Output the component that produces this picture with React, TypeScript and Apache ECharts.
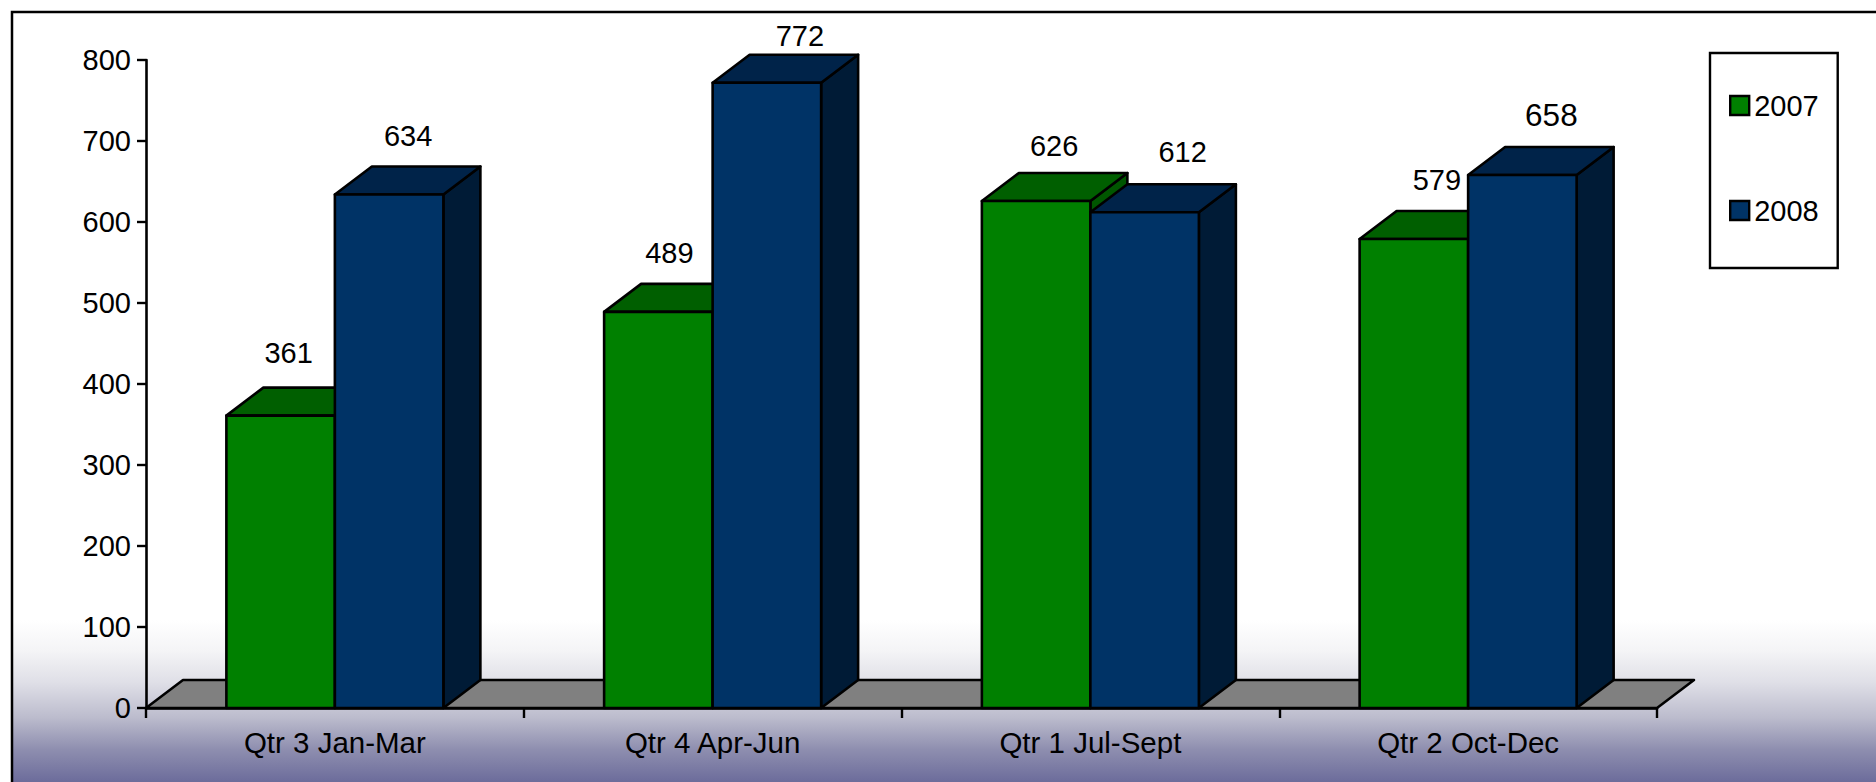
import React, { useEffect, useRef } from "react";
import * as echarts from "echarts";

const categories = ["Qtr 3 Jan-Mar", "Qtr 4 Apr-Jun", "Qtr 1 Jul-Sept", "Qtr 2 Oct-Dec"];
const values2007 = [361, 489, 626, 579];
const values2008 = [634, 772, 612, 658];
const yTicks = { min: 0, max: 800, interval: 100 };

const FONT = '"Liberation Sans", Arial, sans-serif';
const FONT_SIZE = 29;
const LINE = 2.6;
const DEPTH_X = 37;
const DEPTH_Y = 28;
const BAR_W = 108.5;
// Nudges of each value label, measured from the bar's front centre and back top edge.
const labelNudge2007 = [[8, -35], [11, -31], [18, -27], [23, -31]];
const labelNudge2008 = [[19, -30], [33, -19], [38, -32], [29, -32]];
const labelSize2007 = [29, 29, 29, 29];
const labelSize2008 = [29, 29, 29, 31.5];

const barSeries = (
  name: string,
  values: number[],
  side: -1 | 1,
  front: string,
  top: string,
  right: string,
  nudges: number[][],
  sizes: number[]
) => ({
  type: "custom",
  name,
  coordinateSystem: "cartesian2d",
  itemStyle: { color: front },
  data: values.map((v, i) => [i, v]),
  clip: false,
  encode: { x: 0, y: 1 },
  z: 3,
  renderItem: (_p: any, api: any) => {
    const idx = api.value(0);
    const val = api.value(1);
    const [cx, yTop] = api.coord([idx, val]);
    const [, yBase] = api.coord([idx, 0]);
    const x0 = side < 0 ? cx - BAR_W : cx;
    const x1 = x0 + BAR_W;
    const stroke = { stroke: "#000", lineWidth: LINE, lineJoin: "round" };
    const poly = (points: number[][], fill: string) => ({
      type: "polygon",
      shape: { points },
      style: { fill, ...stroke },
    });
    const n = nudges[idx];
    return {
      type: "group",
      children: [
        poly(
          [[x1, yBase], [x1 + DEPTH_X, yBase - DEPTH_Y], [x1 + DEPTH_X, yTop - DEPTH_Y], [x1, yTop]],
          right
        ),
        poly(
          [[x0, yTop], [x0 + DEPTH_X, yTop - DEPTH_Y], [x1 + DEPTH_X, yTop - DEPTH_Y], [x1, yTop]],
          top
        ),
        poly([[x0, yBase], [x0, yTop], [x1, yTop], [x1, yBase]], front),
        {
          type: "text",
          style: {
            text: String(val),
            x: (x0 + x1) / 2 + n[0],
            y: yTop - DEPTH_Y + n[1],
            fill: "#000",
            font: `${sizes[idx]}px ${FONT}`,
            align: "center",
            verticalAlign: "middle",
          },
        },
      ],
    };
  },
});

export default function App() {
  const ref = useRef<HTMLDivElement>(null);
  useEffect(() => {
    document.body.style.margin = "0";
    document.body.style.overflow = "hidden";
    const chart = echarts.init(ref.current!, null, { renderer: "svg" });
    chart.setOption({
      animation: false,
      backgroundColor: "#fff",
      textStyle: { fontFamily: FONT },
      grid: { left: 146, top: 60, width: 1511, height: 648, containLabel: false },
      graphic: [
        {
          type: "rect",
          z: -10,
          shape: { x: 11, y: 12, width: 1865, height: 770 },
          style: {
            fill: new echarts.graphic.LinearGradient(0, 0, 0, 1, [
              { offset: 0, color: "#ffffff" },
              { offset: 0.79, color: "#ffffff" },
              { offset: 0.83, color: "#f4f4f6" },
              { offset: 0.871, color: "#dfdfe7" },
              { offset: 0.916, color: "#bcbccd" },
              { offset: 0.958, color: "#8e8eaf" },
              { offset: 1, color: "#6c6c9b" },
            ]),
          },
        },
        {
          type: "polyline",
          z: -9,
          shape: { points: [[12, 782], [12, 12], [1876, 12]] },
          style: { stroke: "#000", lineWidth: 2.5, fill: "none" },
        },
      ],
      legend: {
        orient: "vertical",
        left: 1710,
        top: 53,
        padding: [38, 19, 43, 19],
        itemGap: 76,
        itemWidth: 19,
        itemHeight: 19,
        backgroundColor: "#fff",
        borderColor: "#000",
        borderWidth: 2.4,
        icon: "rect",
        itemStyle: { borderColor: "#000", borderWidth: 2.4 },
        textStyle: { color: "#000", fontSize: FONT_SIZE, fontFamily: FONT },
        data: ["2007", "2008"],
      },
      xAxis: {
        type: "category",
        data: categories,
        boundaryGap: true,
        axisLine: { show: true, lineStyle: { color: "#000", width: LINE } },
        axisTick: { show: true, length: 10, lineStyle: { color: "#000", width: 2.4 } },
        axisLabel: { color: "#000", fontSize: 29.5, fontFamily: FONT, margin: 19, interval: 0 },
        splitLine: { show: false },
      },
      yAxis: {
        type: "value",
        min: yTicks.min,
        max: yTicks.max,
        interval: yTicks.interval,
        axisLine: { show: true, lineStyle: { color: "#000", width: LINE } },
        axisTick: { show: true, length: 9, lineStyle: { color: "#000", width: 2.4 } },
        axisLabel: { color: "#000", fontSize: FONT_SIZE, fontFamily: FONT, margin: 15 },
        splitLine: { show: false },
      },
      series: [
        {
          type: "custom",
          coordinateSystem: "cartesian2d",
          silent: true,
          data: [[0, 0]],
          z: 1,
          renderItem: (p: any, api: any) => {
            const c = p.coordSys;
            const [, y0] = api.coord([0, 0]);
            return {
              type: "polygon",
              shape: {
                points: [
                  [c.x, y0],
                  [c.x + DEPTH_X, y0 - DEPTH_Y],
                  [c.x + c.width + DEPTH_X, y0 - DEPTH_Y],
                  [c.x + c.width, y0],
                ],
              },
              style: { fill: "#808080", stroke: "#000", lineWidth: LINE, lineJoin: "round" },
            };
          },
        },
        barSeries("2007", values2007, -1, "#008000", "#005f00", "#005600", labelNudge2007, labelSize2007),
        barSeries("2008", values2008, 1, "#003366", "#002349", "#001b36", labelNudge2008, labelSize2008),
      ],
    });
    return () => chart.dispose();
  }, []);
  return <div ref={ref} style={{ width: 1876, height: 782 }} />;
}
